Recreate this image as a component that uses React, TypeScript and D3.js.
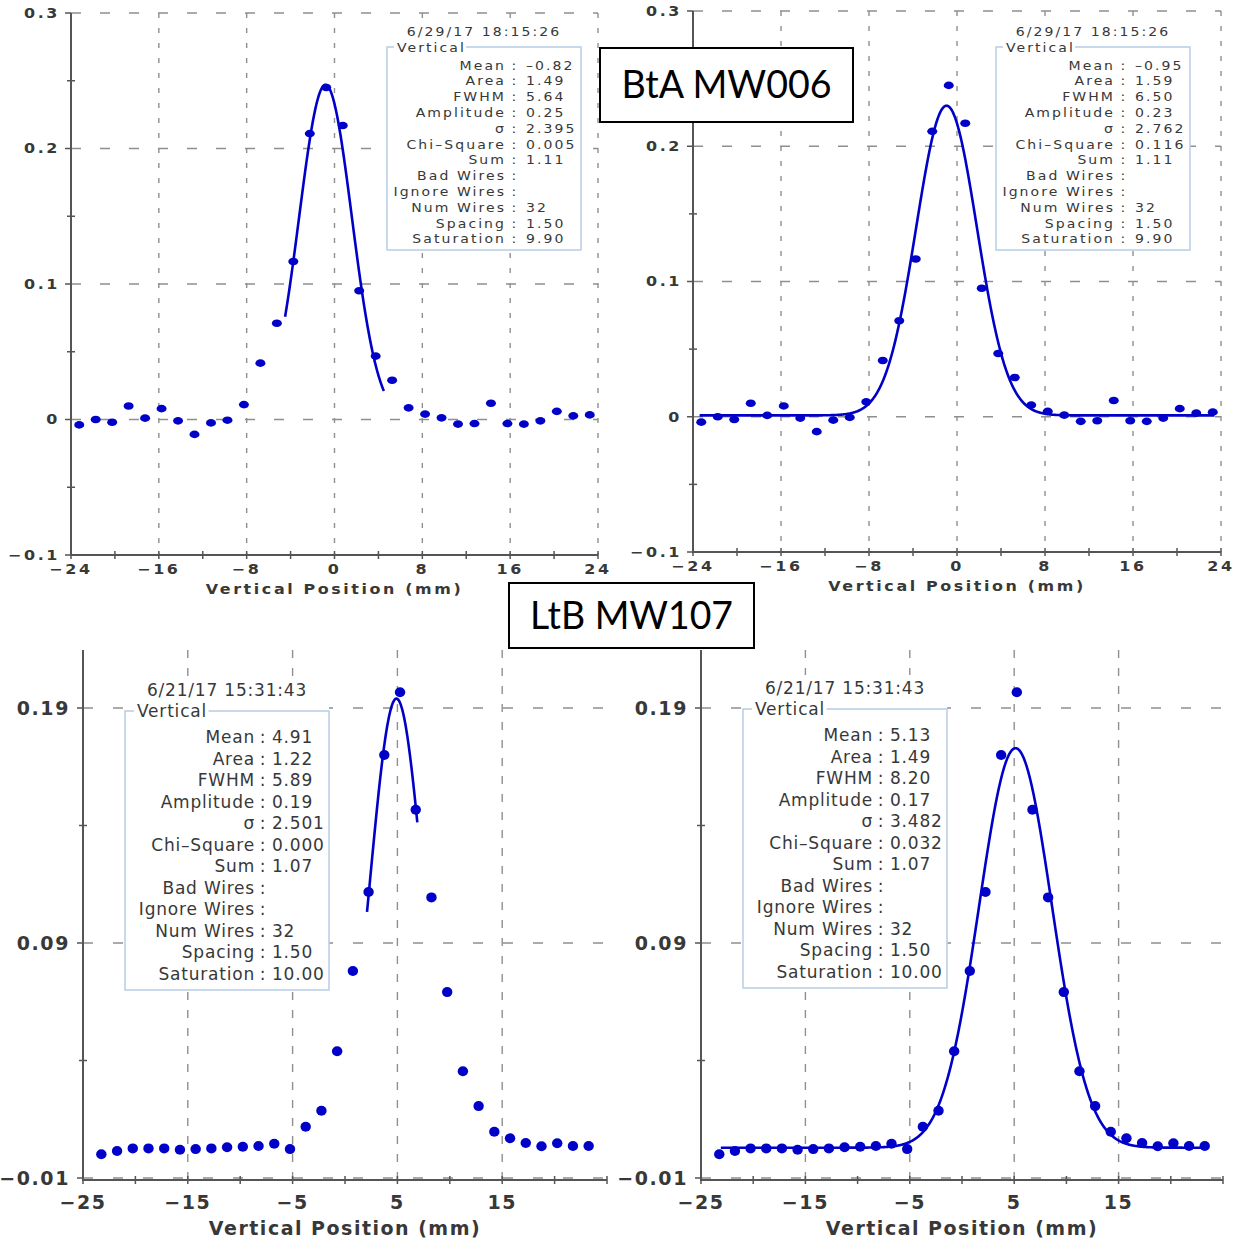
import React from 'react';
import * as d3 from 'd3';

// Wire positions (mm) of the 32-wire harp, 1.5 mm pitch
const WIRE_POSITIONS = [
  -23.25, -21.75, -20.25, -18.75, -17.25, -15.75, -14.25, -12.75,
  -11.25, -9.75, -8.25, -6.75, -5.25, -3.75, -2.25, -0.75,
  0.75, 2.25, 3.75, 5.25, 6.75, 8.25, 9.75, 11.25,
  12.75, 14.25, 15.75, 17.25, 18.75, 20.25, 21.75, 23.25,
];

// BtA MW006 wire signals (6/29/17 18:15:26)
const BTA_SIGNAL = [
  -0.004, 0.0, -0.002, 0.010, 0.001, 0.008, -0.001, -0.011,
  -0.0025, -0.0005, 0.011, 0.0416, 0.071, 0.1166, 0.211, 0.245,
  0.217, 0.095, 0.0468, 0.029, 0.0086, 0.004, 0.0012, -0.0034,
  -0.003, 0.012, -0.003, -0.0034, -0.001, 0.006, 0.0027, 0.0034,
];

// LtB MW107 wire signals (6/21/17 15:31:43)
const LTB_SIGNAL = [
  0.0001, 0.0015, 0.0026, 0.0026, 0.0026, 0.0020, 0.0023, 0.0026,
  0.0031, 0.0033, 0.0036, 0.0046, 0.0023, 0.0118, 0.0186, 0.0439,
  0.0781, 0.1117, 0.170, 0.1967, 0.1467, 0.1094, 0.0691, 0.0354,
  0.0206, 0.0097, 0.0069, 0.0049, 0.0035, 0.0048, 0.0036, 0.0036,
];

const TIMESTAMPS = ['6/29/17 18:15:26', '6/29/17 18:15:26', '6/21/17 15:31:43', '6/21/17 15:31:43'];

// Gaussian fit results, one entry per panel (TL, TR, BL, BR)
const FIT_MEAN = [-0.82, -0.95, 4.91, 5.13];
const FIT_SIGMA = [2.395, 2.762, 2.501, 3.482];
const FIT_AMPLITUDE = [0.247, 0.229, 0.194, 0.170];
const FIT_BASELINE = [0, 0.001, 0, 0.0029];
const FIT_RANGE = [[-4.5, 4.5], [-23.4, 23.4], [2.1, 6.9], [-23.1, 23.2]];
const FIT_AREA = ['1.49', '1.59', '1.22', '1.49'];
const FIT_FWHM = ['5.64', '6.50', '5.89', '8.20'];
const FIT_CHI2 = ['0.005', '0.116', '0.000', '0.032'];
const SUM = ['1.11', '1.11', '1.07', '1.07'];
const NUM_WIRES = ['32', '32', '32', '32'];
const SPACING = ['1.50', '1.50', '1.50', '1.50'];
const SATURATION = ['9.90', '9.90', '10.00', '10.00'];

const STAT_LABELS = [
  'Mean', 'Area', 'FWHM', 'Amplitude', 'σ', 'Chi–Square', 'Sum',
  'Bad Wires', 'Ignore Wires', 'Num Wires', 'Spacing', 'Saturation',
];

// Axis ticks
const BTA_X_TICKS = [-24, -16, -8, 0, 8, 16, 24];
const BTA_X_MINOR = [-20, -12, -4, 4, 12, 20];
const BTA_X_GRID = [-16, -8, 0, 8, 16, 24];
const BTA_Y_TICKS = [-0.1, 0, 0.1, 0.2, 0.3];
const BTA_Y_MINOR = [-0.05, 0.05, 0.15, 0.25];
const BTA_Y_GRID = [0.3, 0.2, 0.1, 0];

const LTB_X_TICKS = [-25, -15, -5, 5, 15];
const LTB_X_MINOR = [-20, -10, 0, 10, 20, 25];
const LTB_X_GRID = [-15, -5, 5, 15];
const LTB_Y_TICKS = [0.19, 0.09, -0.01];
const LTB_Y_MINOR = [0.14, 0.04];
const LTB_Y_GRID = [0.19, 0.09, -0.01];

const BLUE = '#0000c8';
const AXIS = '#555';
const GRID = '#8f8f8f';
const TEXT = '#383838';
const FONT = '"DejaVu Sans", sans-serif';

type TextStyle = { size: number; ls: number; sx: number; weight?: string | number };

function Txt(props: {
  x: number; y: number; st: TextStyle; anchor?: string; children: React.ReactNode; fill?: string;
}) {
  const { x, y, st, anchor = 'start', children, fill = TEXT } = props;
  return (
    <text
      transform={`translate(${x},${y}) scale(${st.sx},1)`}
      textAnchor={anchor}
      fontFamily={FONT}
      fontSize={st.size}
      fontWeight={st.weight ?? 'normal'}
      letterSpacing={st.ls}
      fill={fill}
    >
      {children}
    </text>
  );
}

const fmtTick = (v: number, digits: number) => {
  if (Math.abs(v) < 1e-9) return '0';
  const s = Math.abs(v).toFixed(digits);
  return (v < 0 ? '−' : '') + s;
};

type PanelCfg = {
  idx: number;
  signal: number[];
  x: d3.ScaleLinear<number, number>;
  y: d3.ScaleLinear<number, number>;
  plotTop: number;
  xAxisY: number;
  xTicks: number[]; xMinor: number[]; xGrid: number[];
  yTicks: number[]; yMinor: number[]; yGrid: number[];
  yDigits: number; xDigits: number;
  tick: TextStyle; title: TextStyle; legend: TextStyle;
  tickLabelDy: number; titleDy: number; yLabelGap: number;
  box: {
    x: number; y: number; w: number; h: number; stampY: number; firstRow: number;
    step: number; colon: number; titleDx: number; labelGap: number; valueGap: number;
  };
  marker: { rx: number; ry: number };
  lineWidth: number;
  gridDash: [string, string];
};

function Panel({ c }: { c: PanelCfg }) {
  const { x, y } = c;
  const [x0, x1] = x.range();
  const i = c.idx;
  const mean = FIT_MEAN[i], sig = FIT_SIGMA[i], amp = FIT_AMPLITUDE[i], base = FIT_BASELINE[i];
  const [fa, fb] = FIT_RANGE[i];
  const curveXs = d3.range(fa, fb + 1e-9, 0.05);
  const gauss = (v: number) => base + amp * Math.exp(-((v - mean) ** 2) / (2 * sig * sig));
  const line = d3.line<number>().x((v) => x(v)).y((v) => y(gauss(v)));

  const values = [
    (mean < 0 ? '–' : '') + Math.abs(mean).toFixed(2),
    FIT_AREA[i], FIT_FWHM[i], amp.toFixed(2), sig.toFixed(3), FIT_CHI2[i], SUM[i],
    '', '', NUM_WIRES[i], SPACING[i], SATURATION[i],
  ];
  const b = c.box;
  const titleW = c.legend.size * 3.82 * c.legend.sx + 7 * c.legend.ls * c.legend.sx;

  return (
    <g>
      {/* grid */}
      {c.yGrid.map((v) => (
        <line key={'hg' + v} x1={x0} x2={x1} y1={y(v)} y2={y(v)} stroke={GRID} strokeWidth={1.4} strokeDasharray={c.gridDash[0]} />
      ))}
      {c.xGrid.map((v) => (
        <line key={'vg' + v} x1={x(v)} x2={x(v)} y1={c.plotTop} y2={c.xAxisY} stroke={GRID} strokeWidth={1.4} strokeDasharray={c.gridDash[1]} />
      ))}
      {/* axes */}
      <line x1={x0} x2={x0} y1={c.plotTop} y2={c.xAxisY + 1} stroke={AXIS} strokeWidth={2} />
      <line x1={x0} x2={x1} y1={c.xAxisY} y2={c.xAxisY} stroke={AXIS} strokeWidth={2} />
      {c.yTicks.map((v) => (
        <line key={'yt' + v} x1={x0 - 6} x2={x0} y1={y(v)} y2={y(v)} stroke={AXIS} strokeWidth={1.5} />
      ))}
      {c.yMinor.map((v) => (
        <line key={'ym' + v} x1={x0 - 4} x2={x0 + 4} y1={y(v)} y2={y(v)} stroke={AXIS} strokeWidth={1.5} />
      ))}
      {[...c.xTicks, ...c.xMinor].map((v) => (
        <line key={'xt' + v} x1={x(v)} x2={x(v)} y1={c.xAxisY - 4} y2={c.xAxisY + 4} stroke={AXIS} strokeWidth={1.5} />
      ))}
      {/* tick labels */}
      {c.yTicks.map((v) => (
        <Txt key={'yl' + v} x={x0 - c.yLabelGap} y={y(v) + c.tick.size * 0.36} st={c.tick} anchor="end">
          {fmtTick(v, c.yDigits)}
        </Txt>
      ))}
      {c.xTicks.map((v) => (
        <Txt key={'xl' + v} x={x(v)} y={c.xAxisY + c.tickLabelDy} st={c.tick} anchor="middle">
          {fmtTick(v, c.xDigits)}
        </Txt>
      ))}
      <Txt x={(x0 + x1) / 2} y={c.xAxisY + c.titleDy} st={c.title} anchor="middle">
        Vertical Position (mm)
      </Txt>

      {/* fit curve and wire data */}
      <path d={line(curveXs) ?? ''} fill="none" stroke={BLUE} strokeWidth={c.lineWidth} strokeLinejoin="round" />
      {c.signal.map((v, k) => (
        <ellipse key={'p' + k} cx={x(WIRE_POSITIONS[k])} cy={y(v)} rx={c.marker.rx} ry={c.marker.ry} fill={BLUE} />
      ))}

      {/* statistics legend */}
      <rect x={b.x} y={b.stampY - 13} width={b.w} height={b.y + b.h - b.stampY + 13} fill="#fff" />
      <rect x={b.x} y={b.y} width={b.w} height={b.h} fill="#fff" stroke="#b8cde6" strokeWidth={1.5} />
      <rect x={b.x + b.titleDx - 3} y={b.y - 3} width={titleW + 4} height={6} fill="#fff" />
      <Txt x={b.x + b.w / 2} y={b.stampY + c.legend.size * 0.36} st={c.legend} anchor="middle">
        {TIMESTAMPS[i]}
      </Txt>
      <Txt x={b.x + b.titleDx} y={b.y + c.legend.size * 0.36} st={c.legend}>
        Vertical
      </Txt>
      {STAT_LABELS.map((lab, k) => {
        const yy = b.y + b.firstRow + k * b.step;
        return (
          <g key={'row' + k}>
            <Txt x={b.x + b.colon - b.labelGap} y={yy} st={c.legend} anchor="end">{lab}</Txt>
            <Txt x={b.x + b.colon} y={yy} st={c.legend} anchor="middle">:</Txt>
            <Txt x={b.x + b.colon + b.valueGap} y={yy} st={c.legend}>{values[k]}</Txt>
          </g>
        );
      })}
    </g>
  );
}

const TOP_TICK: TextStyle = { size: 13.5, ls: 2.2, sx: 1.18, weight: 'bold' };
const TOP_TITLE: TextStyle = { size: 13.5, ls: 2.2, sx: 1.18, weight: 'bold' };
const TOP_LEGEND: TextStyle = { size: 13, ls: 1.9, sx: 1.08 };
const BOT_TICK: TextStyle = { size: 19, ls: 1.6, sx: 1, weight: 'bold' };
const BOT_TITLE: TextStyle = { size: 19, ls: 1.5, sx: 1, weight: 'bold' };
const BOT_LEGEND: TextStyle = { size: 17, ls: 0.8, sx: 1 };

const topBox = (bx: number) => ({
  x: bx, y: 47, w: 194, h: 203, stampY: 31, firstRow: 22.5, step: 15.8, colon: 128, titleDx: 10,
  labelGap: 9, valueGap: 11,
});
const botBox = (bx: number, by: number, sy: number) => ({
  x: bx, y: by, w: 204, h: 279, stampY: sy, firstRow: 32, step: 21.5, colon: 138, titleDx: 12,
  labelGap: 8, valueGap: 9,
});

const panels: PanelCfg[] = [
  {
    idx: 0, signal: BTA_SIGNAL,
    x: d3.scaleLinear().domain([-24, 24]).range([71, 598]),
    y: d3.scaleLinear().domain([-0.1, 0.3]).range([555, 13]),
    plotTop: 13, xAxisY: 555,
    xTicks: BTA_X_TICKS, xMinor: BTA_X_MINOR, xGrid: BTA_X_GRID,
    yTicks: BTA_Y_TICKS, yMinor: BTA_Y_MINOR, yGrid: BTA_Y_GRID,
    yDigits: 1, xDigits: 0,
    tick: TOP_TICK, title: TOP_TITLE, legend: TOP_LEGEND,
    tickLabelDy: 19, titleDy: 39, yLabelGap: 11,
    box: topBox(387), marker: { rx: 5, ry: 3.8 }, lineWidth: 2.6,
    gridDash: ['10 19', '5 10'],
  },
  {
    idx: 1, signal: BTA_SIGNAL,
    x: d3.scaleLinear().domain([-24, 24]).range([693, 1221]),
    y: d3.scaleLinear().domain([-0.1, 0.3]).range([552, 11]),
    plotTop: 11, xAxisY: 552,
    xTicks: BTA_X_TICKS, xMinor: BTA_X_MINOR, xGrid: BTA_X_GRID,
    yTicks: BTA_Y_TICKS, yMinor: BTA_Y_MINOR, yGrid: BTA_Y_GRID,
    yDigits: 1, xDigits: 0,
    tick: TOP_TICK, title: TOP_TITLE, legend: TOP_LEGEND,
    tickLabelDy: 19, titleDy: 39, yLabelGap: 11,
    box: topBox(996), marker: { rx: 5, ry: 3.8 }, lineWidth: 2.6,
    gridDash: ['10 19', '5 10'],
  },
  {
    idx: 2, signal: LTB_SIGNAL,
    x: d3.scaleLinear().domain([-25, 25]).range([83, 607]),
    y: d3.scaleLinear().domain([-0.01, 0.19]).range([1178, 708]),
    plotTop: 650, xAxisY: 1180,
    xTicks: LTB_X_TICKS, xMinor: LTB_X_MINOR, xGrid: LTB_X_GRID,
    yTicks: LTB_Y_TICKS, yMinor: LTB_Y_MINOR, yGrid: LTB_Y_GRID,
    yDigits: 2, xDigits: 0,
    tick: BOT_TICK, title: BOT_TITLE, legend: BOT_LEGEND,
    tickLabelDy: 29, titleDy: 55, yLabelGap: 13,
    box: botBox(125, 711, 690), marker: { rx: 5.2, ry: 5 }, lineWidth: 2.6,
    gridDash: ['10 20', '8 10'],
  },
  {
    idx: 3, signal: LTB_SIGNAL,
    x: d3.scaleLinear().domain([-25, 25]).range([701, 1223]),
    y: d3.scaleLinear().domain([-0.01, 0.19]).range([1178, 708]),
    plotTop: 650, xAxisY: 1180,
    xTicks: LTB_X_TICKS, xMinor: LTB_X_MINOR, xGrid: LTB_X_GRID,
    yTicks: LTB_Y_TICKS, yMinor: LTB_Y_MINOR, yGrid: LTB_Y_GRID,
    yDigits: 2, xDigits: 0,
    tick: BOT_TICK, title: BOT_TITLE, legend: BOT_LEGEND,
    tickLabelDy: 29, titleDy: 55, yLabelGap: 13,
    box: botBox(743, 709, 688), marker: { rx: 5.2, ry: 5 }, lineWidth: 2.6,
    gridDash: ['10 20', '8 10'],
  },
];

function NameTag({ x, y, w, h, label, textW }: { x: number; y: number; w: number; h: number; label: string; textW: number }) {
  return (
    <g>
      <rect x={x} y={y} width={w} height={h} fill="#fff" stroke="#000" strokeWidth={2} />
      <text
        x={x + w / 2}
        y={y + h / 2 + 13}
        textAnchor="middle"
        fontFamily="Lato, 'Open Sans', sans-serif"
        fontSize={38}
        fill="#000"
        textLength={textW}
        lengthAdjust="spacingAndGlyphs"
      >
        {label}
      </text>
    </g>
  );
}

export default function App() {
  return (
    <svg
      width={1238}
      height={1241}
      viewBox="0 0 1238 1241"
      style={{ position: 'absolute', left: 0, top: 0, background: '#fff' }}
    >
      <rect x={0} y={0} width={1238} height={1241} fill="#fff" />
      {panels.map((c) => (
        <Panel key={c.idx} c={c} />
      ))}
      <NameTag x={600} y={48} w={253} h={74} label="BtA MW006" textW={210} />
      <NameTag x={509} y={583} w={245} h={65} label="LtB MW107" textW={203} />
    </svg>
  );
}
